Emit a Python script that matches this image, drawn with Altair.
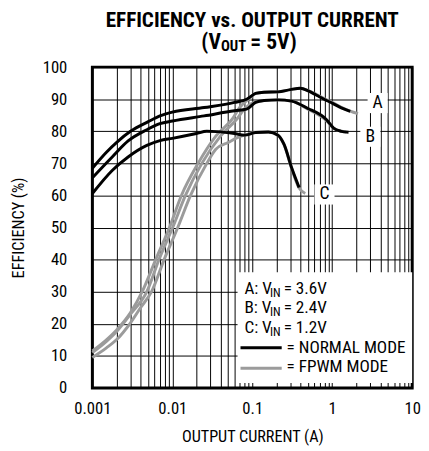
import altair as alt
import pandas as pd

# ---------------- data ----------------
# NORMAL MODE (black)
A_N_X = [0.001, 0.0015, 0.002, 0.003, 0.005, 0.007, 0.01, 0.025, 0.06, 0.085, 0.11, 0.14, 0.21, 0.3, 0.4, 0.5, 0.63, 0.85, 1.0, 1.3, 1.68]
A_N_Y = [68.5, 73.5, 76.5, 80.0, 83.0, 84.8, 86.0, 87.4, 89.0, 90.0, 91.8, 92.2, 92.3, 93.0, 93.4, 92.6, 91.3, 89.6, 88.8, 87.3, 86.2]
B_N_X = [0.001, 0.00177, 0.0028, 0.0048, 0.007, 0.01, 0.025, 0.06, 0.085, 0.11, 0.14, 0.21, 0.31, 0.49, 0.85, 1.04, 1.3, 1.6]
B_N_Y = [65.5, 72.0, 77.0, 80.5, 82.4, 83.2, 84.8, 86.4, 86.9, 89.0, 89.6, 89.8, 89.4, 87.2, 83.6, 81.0, 80.0, 79.7]
C_N_X = [0.001, 0.00177, 0.0028, 0.0048, 0.007, 0.01, 0.02, 0.027, 0.036, 0.06, 0.08, 0.11, 0.159, 0.21, 0.25, 0.31, 0.385]
C_N_Y = [60.6, 67.8, 72.0, 75.6, 77.1, 77.8, 79.3, 80.0, 79.9, 79.3, 78.8, 79.6, 79.8, 78.8, 75.9, 68.7, 62.5]

# FPWM MODE (gray)
A_F_X = [0.001, 0.0015, 0.002, 0.003, 0.0042, 0.0062, 0.0092, 0.013, 0.021, 0.035, 0.057, 0.07, 0.09, 0.11, 0.14, 0.21, 0.3, 0.4, 0.5, 0.63, 0.85, 1.0, 1.3, 1.68, 2.1]
A_F_Y = [11.5, 15.0, 18.0, 23.5, 30.0, 40.0, 50.0, 60.0, 70.0, 78.5, 84.0, 87.5, 90.0, 91.8, 92.2, 92.3, 93.0, 93.4, 92.7, 91.5, 89.8, 89.0, 87.5, 86.3, 85.5]
B_F_X = [0.001, 0.0015, 0.002, 0.003, 0.0048, 0.0068, 0.0101, 0.0146, 0.0234, 0.04, 0.065, 0.08, 0.1, 0.14, 0.21, 0.31, 0.49, 0.85, 1.04, 1.3, 1.5]
B_F_Y = [11.0, 14.5, 17.5, 23.0, 30.0, 40.0, 50.0, 60.0, 70.0, 78.5, 84.0, 87.0, 88.8, 89.6, 89.8, 89.4, 87.0, 83.3, 81.0, 80.0, 79.8]
C_F_X = [0.001, 0.0015, 0.002, 0.003, 0.004, 0.0055, 0.0079, 0.0117, 0.0169, 0.027, 0.035, 0.05, 0.065, 0.08, 0.11, 0.159, 0.21, 0.25, 0.31, 0.385, 0.46]
C_F_Y = [9.5, 12.5, 15.0, 20.3, 25.0, 30.0, 40.0, 50.0, 60.0, 70.0, 74.4, 76.5, 78.0, 78.8, 79.6, 79.8, 78.8, 75.8, 68.5, 62.3, 60.6]

CURVE_LABELS = ["A", "B", "C"]
LABEL_X = [3.7, 3.0, 0.8]
LABEL_Y = [88.8, 78.3, 60.3]

LEGEND_PRE = ["A: V", "B: V", "C: V"]
LEGEND_POST = ["= 3.6V", "= 2.4V", "= 1.2V"]
LEGEND_MODES = ["= NORMAL MODE", "= FPWM MODE"]

X_TICKS = [m * 10 ** e for e in range(-3, 1) for m in range(1, 10)] + [10]
Y_TICKS = list(range(0, 101, 10))

FONT = "Roboto Condensed, DejaVu Sans Condensed, Liberation Sans, sans-serif"
GRAY = "#9b9b9b"


def frame(name, xs, ys):
    return pd.DataFrame({"curve": name, "i": range(len(xs)), "x": xs, "y": ys})


normal = pd.concat([frame("A", A_N_X, A_N_Y), frame("B", B_N_X, B_N_Y), frame("C", C_N_X, C_N_Y)])
fpwm = pd.concat([frame("A", A_F_X, A_F_Y), frame("B", B_F_X, B_F_Y), frame("C", C_F_X, C_F_Y)])
labels = pd.DataFrame({"t": CURVE_LABELS, "x": LABEL_X, "y": LABEL_Y})
one = pd.DataFrame({"k": [0]})

xscale = alt.Scale(type="log", domain=[0.001, 10], nice=False)
yscale = alt.Scale(domain=[0, 100], nice=False)

xaxis = alt.Axis(
    values=X_TICKS, grid=True, ticks=False, tickSize=0, domain=False,
    labelExpr="abs(log(datum.value)/LN10 - round(log(datum.value)/LN10)) < 0.000001 ? format(datum.value, '~g') : ''",
    title="OUTPUT CURRENT (A)", labelPadding=13, titlePadding=13,
    labelFlush=False, labelOverlap=False,
)
yaxis = alt.Axis(
    values=Y_TICKS, grid=True, ticks=False, tickSize=0, domain=False,
    title="EFFICIENCY (%)", labelPadding=26, titlePadding=16,
    labelOverlap=False, labelFlush=False,
)

X_MAIN = alt.X("x:Q", scale=xscale, axis=xaxis)
Y_MAIN = alt.Y("y:Q", scale=yscale, axis=yaxis)

gray_lines = alt.Chart(fpwm).mark_line(color=GRAY, strokeWidth=3, interpolate="monotone").encode(
    x=X_MAIN, y=Y_MAIN, detail="curve:N", order="i:Q"
)
black_lines = alt.Chart(normal).mark_line(color="black", strokeWidth=3, interpolate="monotone").encode(
    x=X_MAIN, y=Y_MAIN, detail="curve:N", order="i:Q"
)

label_bg = alt.Chart(labels).mark_point(shape="square", filled=True, color="white", opacity=1, size=420).encode(
    x=X_MAIN, y=Y_MAIN
)
label_txt = alt.Chart(labels).mark_text(font=FONT, fontSize=18, color="black").encode(
    x=X_MAIN, y=Y_MAIN, text="t:N"
)


def ptext(text, px, py, size=17.5, align="left", weight="normal", dy=0):
    return alt.Chart(one).mark_text(
        font=FONT, fontSize=size, align=align, baseline="middle", fontWeight=weight, dy=dy, color="black"
    ).encode(x=alt.value(px), y=alt.value(py), text=alt.value(text))


layers = [gray_lines, black_lines, label_bg, label_txt]

# legend panel
layers.append(alt.Chart(one).mark_rect(color="white").encode(
    x=alt.value(148), x2=alt.value(326), y=alt.value(209), y2=alt.value(322)
))
row_y = [226, 246, 266]
for pre, post, ry in zip(LEGEND_PRE, LEGEND_POST, row_y):
    layers.append(ptext(pre, 155, ry))
    layers.append(ptext("IN", 181, ry, size=12.5, dy=4))
    layers.append(ptext(post, 195, ry))
layers.append(alt.Chart(one).mark_rule(color="black", strokeWidth=3).encode(
    x=alt.value(151), x2=alt.value(193), y=alt.value(286)))
layers.append(alt.Chart(one).mark_rule(color=GRAY, strokeWidth=3).encode(
    x=alt.value(151), x2=alt.value(193), y=alt.value(307)))
layers.append(ptext(LEGEND_MODES[0], 198, 286))
layers.append(ptext(LEGEND_MODES[1], 198, 306))

# title
layers.append(ptext("EFFICIENCY vs. OUTPUT CURRENT", 163, -47, size=21.5, align="center", weight="bold"))
layers.append(ptext("(V", 131, -25, size=22, align="right", weight="bold"))
layers.append(ptext("OUT", 131, -25, size=15, weight="bold", dy=4))
layers.append(ptext("= 5V)", 161, -25, size=22, weight="bold"))

chart = alt.layer(*layers).properties(
    width=326, height=327,
    autosize=alt.AutoSizeParams(type="none"),
    padding={"left": 86, "top": 56, "right": 9, "bottom": 60},
).configure_view(
    stroke="black", strokeWidth=3
).configure_axis(
    labelFont=FONT, titleFont=FONT, labelFontSize=17, titleFontSize=16.5,
    titleFontWeight="normal", labelColor="black", titleColor="black",
    gridColor="black", gridWidth=1, gridOpacity=1,
)

chart.save("out.html", embed_options={"renderer": "svg", "actions": False})
